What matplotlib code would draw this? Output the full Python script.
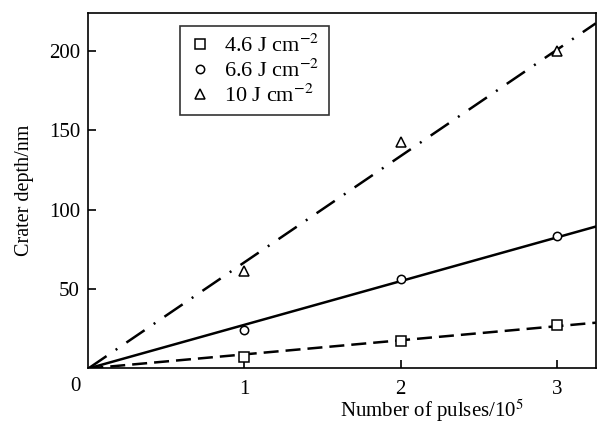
import matplotlib
matplotlib.use("Agg")
import matplotlib.pyplot as plt

plt.rcParams['font.family'] = ['Liberation Serif', 'DejaVu Serif']
plt.rcParams['mathtext.fontset'] = 'stix'

# data
pulses = [1, 2, 3]
depth_46 = [7.3, 17.4, 27.1]
depth_66 = [24.5, 56.5, 83.4]
depth_10 = [61.5, 142.5, 199.6]
labels = [r'4.6 J cm$^{-2}$', r'6.6 J cm$^{-2}$', r'10 J cm$^{-2}$']
fit_x = [0, 3.25]
fit_46 = [0, 28.8]
fit_66 = [0, 89.3]
fit_10 = [0, 217.2]
yticks = [50, 100, 150, 200]
xticks = [1, 2, 3]

fig = plt.figure(figsize=(5.97, 4.24), dpi=100)
ax = fig.add_axes([0.148, 0.131, 0.850, 0.8395])

lw = 1.8
ax.plot(fit_x, fit_46, color='black', lw=lw, dashes=(6, 2.8), zorder=2)
ax.plot(fit_x, fit_66, color='black', lw=lw, zorder=2)
ax.plot(fit_x, fit_10, color='black', lw=lw, dashes=(8.8, 4.4, 0.8, 4.4), zorder=2)

mk = dict(ls='none', mfc='white', mec='black', mew=1.1, zorder=3)
ax.plot(pulses, depth_46, marker='s', ms=6.5, label=labels[0], **mk)
ax.plot(pulses, depth_66, marker='o', ms=6, label=labels[1], **mk)
ax.plot(pulses, depth_10, marker='^', ms=7.5, label=labels[2], **mk)

ax.set_xlim(0, 3.25)
ax.set_ylim(0, 224)
ax.set_xticks(xticks)
ax.set_yticks(yticks)
ax.tick_params(direction='in', length=6, width=1.2, labelsize=15, top=False, right=False)
ax.tick_params(axis='x', pad=8)
ax.tick_params(axis='y', pad=6)
for s in ax.spines.values():
    s.set_linewidth(1.2)

ax.annotate('0', xy=(0, 0), xycoords='data', xytext=(-13, -18), textcoords='offset pixels',
            ha='center', va='center', fontsize=15)

ax.set_ylabel('Crater depth/nm', fontsize=14.5)
ax.yaxis.set_label_coords(-0.108, 0.5)
ax.set_xlabel(r'Number of pulses/10$^5$', fontsize=15)
ax.xaxis.label.set_va('baseline')
ax.xaxis.set_label_coords(0.677, -0.136)

leg = ax.legend(loc='upper left', bbox_to_anchor=(0.1805, 0.9635), frameon=True, fancybox=False,
                edgecolor='black', fontsize=16, handlelength=1.0, handletextpad=0.6,
                borderpad=0.4, labelspacing=0.12, borderaxespad=0)
leg.get_frame().set_linewidth(1.2)

fig.savefig('out.png', dpi=100)
